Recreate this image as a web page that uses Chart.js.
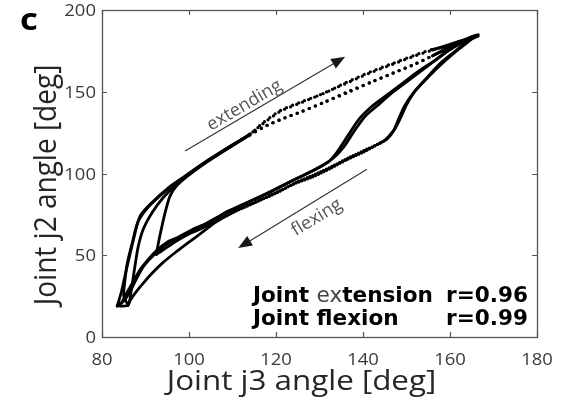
<!DOCTYPE html>
<html><head><meta charset="utf-8">
<script src="https://cdn.jsdelivr.net/npm/chart.js@4.4.0/dist/chart.umd.min.js"></script>
<style>html,body{margin:0;padding:0;background:#fff;overflow:hidden}#wrap{position:relative;width:566px;height:404px}</style>
</head><body><div id="wrap"><canvas id="c" width="566" height="404"></canvas></div>
<script>
// ---- data ----
const xTicks = [80, 100, 120, 140, 160, 180];
const yTicks = [0, 50, 100, 150, 200];
const xTitle = 'Joint j3 angle [deg]';
const yTitle = 'Joint j2 angle [deg]';
const panelLabel = 'c';

const cycle1J3 = [83.5,84.5,85.5,87,88.7,91,95.6,100,105,110,114,117,121,126,131,136,142,147,152,156,160,163.5,166.5,163,160.5,157,153,149,145,142,139,136.5,134,132,128,124,119,114,109,104.5,101,97.5,95,92.6,90.5,88.7,87,85.5,84.5,83.5];
const cycle1J2 = [19,28,40,57,73.6,81,92,100,109,117,124,131,138.5,144,149,155.5,162.5,167.5,172.5,176,178,181,185,181,177,170,163,155,147,141,133,123,113,107,101,96,89,83,77,70,66,61,58,53,47,41,33,26,21,19];

const cycle2J3 = [83.5,86,86.8,87.5,88.3,89.5,91.5,94,97,100.5,105,110,114,118,122,126,131,136,142,147,152,156,159.5,163,165.5,161.5,158,154.5,151.5,149.5,148.3,147,145.5,143.9,140,136.3,132.4,128.5,124,120,115,110,106,103,100,97,94,91.5,89.5,87.8,86.5,86];
const cycle2J2 = [19,19.5,30,42,55,66,76,85,93,101,109,117.5,123.5,129.5,134,138,143.5,149.5,156,161.5,167,172,177,181,184,175.5,168,158,149,141,134,126,121,118.6,113,108.5,103,98,93.5,88,82,76,70,64,58,52,45.5,39,33,27.5,22.5,19.5];

const cycle3J3 = [86,85,85.2,85.8,87,88.2,90.5,94.5,99,104,109,113.5,117,121,125.5,130,136,141.6,147,152,156,160,163.5,166,162,158.5,155,152,150,148.8,147.5,146,144.6,141,137,133,129,125,121,116,111,107,103,100,97,94.5,92.5];
const cycle3J2 = [19.5,25,33,45,58,70,79,89,98,107.5,116,123,130.5,138,143,148,155,161.5,167,172,175.5,179,182,184.5,176,168,159,150.5,142,135,128,123,119.5,115,110,104.5,99.5,95,89.5,83.5,77.5,72,66.5,63,58.5,54,50.5];

const cycle4J3 = [92.5,93,93.8,94.7,95.6,97,99.5,103,107,111,114,118,122,126,131,136.5,142,147,152,156,160,163,166.5,162.5,159,155,151,147,143.5,140.5,138,135.5,133,130,126,121,116,111,106,103,100,97,94,91.5,89.5,88,86.5,85,83.5];
const cycle4J2 = [50.5,58,68,78,86,92,98,105,112,119,124,129.5,134,138,143.5,149.5,156,161.5,167,172,177,180.5,184,179.5,174,166,158,150,142,135,126,116,109,104,98.5,92,85.5,79,72.5,68,64,60,55,49,43,36,28,22,19];

const extArrow = [[99.1, 113.8], [135.9, 171.4]];
const flexArrow = [[140.9, 102.6], [111.3, 54.4]];
const extLabel = 'extending';
const flexLabel = 'flexing';
const statRows = [['Joint ', 'ex', 'tension', 'r=0.96'], ['Joint flexion', '', '', 'r=0.99']];

// ---- chart ----
const cycles = [[cycle1J3, cycle1J2, false], [cycle2J3, cycle2J2, true], [cycle3J3, cycle3J2, true], [cycle4J3, cycle4J2, false]];
const SX = 1.12;

function fastSeg(ctx) {
  const a = ctx.p0.parsed, b = ctx.p1.parsed;
  const ds = ctx.chart.data.datasets[ctx.datasetIndex];
  if (b.x > a.x && a.x >= 113.5 && b.x <= 157) return [0, 6.5];
  if (ds.fastFlex && b.x < a.x && a.x <= 145 && b.x >= 109) return [0, 3.0];
  return undefined;
}
function fastWidth(ctx) {
  return fastSeg(ctx) ? 3.3 : undefined;
}

function sText(ctx, txt, x, y, align, sx) {
  ctx.save(); ctx.translate(x, y); ctx.scale(sx, 1); ctx.textAlign = align; ctx.fillText(txt, 0, 0); ctx.restore();
}

function arrow(ctx, x, y, p0, p1) {
  const ax = x.getPixelForValue(p0[0]), ay = y.getPixelForValue(p0[1]);
  const bx = x.getPixelForValue(p1[0]), by = y.getPixelForValue(p1[1]);
  const ang = Math.atan2(by - ay, bx - ax);
  const hl = 14, hw = 5.5;
  ctx.save();
  ctx.strokeStyle = '#333'; ctx.fillStyle = '#1a1a1a'; ctx.lineWidth = 1.2;
  ctx.beginPath(); ctx.moveTo(ax, ay);
  ctx.lineTo(bx - hl * Math.cos(ang) * 0.8, by - hl * Math.sin(ang) * 0.8); ctx.stroke();
  ctx.translate(bx, by); ctx.rotate(ang);
  ctx.beginPath(); ctx.moveTo(0, 0); ctx.lineTo(-hl, -hw); ctx.lineTo(-hl, hw); ctx.closePath(); ctx.fill();
  ctx.restore();
  return {ax, ay, bx, by};
}

function slantText(ctx, txt, a, t, off, baseline) {
  let dx = a.bx - a.ax, dy = a.by - a.ay;
  if (dx < 0) { dx = -dx; dy = -dy; }
  const ang = Math.atan2(dy, dx);
  const cx = a.ax + (a.bx - a.ax) * t, cy = a.ay + (a.by - a.ay) * t;
  ctx.save();
  ctx.translate(cx, cy); ctx.rotate(ang);
  ctx.textAlign = 'center'; ctx.textBaseline = baseline;
  ctx.fillText(txt, 0, off);
  ctx.restore();
}

const decor = {
  id: 'decor',
  afterDraw(chart) {
    const {ctx, chartArea: ca, scales: {x, y}} = chart;
    ctx.save();
    // frame
    ctx.strokeStyle = '#555'; ctx.lineWidth = 1.3;
    ctx.strokeRect(Math.round(ca.left) + 0.5, Math.round(ca.top) + 0.5, Math.round(ca.right - ca.left), Math.round(ca.bottom - ca.top));
    ctx.lineWidth = 1.2;
    ctx.beginPath();
    xTicks.forEach(v => { const p = Math.round(x.getPixelForValue(v)) + 0.5;
      ctx.moveTo(p, ca.bottom); ctx.lineTo(p, ca.bottom - 5); ctx.moveTo(p, ca.top); ctx.lineTo(p, ca.top + 5); });
    yTicks.forEach(v => { const p = Math.round(y.getPixelForValue(v)) + 0.5;
      ctx.moveTo(ca.left, p); ctx.lineTo(ca.left + 5, p); ctx.moveTo(ca.right, p); ctx.lineTo(ca.right - 5, p); });
    ctx.stroke();
    // tick labels
    ctx.fillStyle = '#3a3a3a'; ctx.font = '16.5px "Open Sans"'; ctx.textBaseline = 'alphabetic';
    xTicks.forEach(v => sText(ctx, String(v), x.getPixelForValue(v), ca.bottom + 28, 'center', SX));
    yTicks.forEach(v => sText(ctx, String(v), ca.left - 6, y.getPixelForValue(v) + 6, 'right', SX));
    // axis titles
    ctx.fillStyle = '#262626'; ctx.font = '28px "Open Sans"';
    sText(ctx, xTitle, 301.5, 390, 'center', SX);
    ctx.save(); ctx.translate(56, 185); ctx.rotate(-Math.PI / 2); ctx.scale(1, SX);
    ctx.textAlign = 'center'; ctx.fillText(yTitle, 0, 0); ctx.restore();
    // panel label
    ctx.fillStyle = '#000'; ctx.font = 'bold 31px "Open Sans"';
    sText(ctx, panelLabel, 20, 30, 'left', SX);
    // arrows
    const ea = arrow(ctx, x, y, extArrow[0], extArrow[1]);
    const fa = arrow(ctx, x, y, flexArrow[0], flexArrow[1]);
    ctx.fillStyle = '#555'; ctx.font = '18px "Open Sans"';
    slantText(ctx, extLabel, ea, 0.40, -4, 'alphabetic');
    slantText(ctx, flexLabel, fa, 0.45, 6, 'top');
    // stats text
    const bl = [302, 325];
    statRows.forEach((r, i) => {
      let cx = 253;
      ctx.textAlign = 'left'; ctx.textBaseline = 'alphabetic';
      [[r[0], 'bold', '#000'], [r[1], 'normal', '#444'], [r[2], 'bold', '#000']].forEach(([t, w, c]) => {
        if (!t) return;
        ctx.font = w + ' 21.6px "DejaVu Sans"'; ctx.fillStyle = c;
        ctx.fillText(t, cx, bl[i]); cx += ctx.measureText(t).width;
      });
      ctx.font = 'bold 21.6px "DejaVu Sans"'; ctx.fillStyle = '#000'; ctx.textAlign = 'right';
      ctx.fillText(r[3], 528, bl[i]);
    });
    ctx.restore();
  }
};

new Chart(document.getElementById('c'), {
  type: 'scatter',
  data: {
    datasets: cycles.map(([xs, ys, ff]) => ({
      data: xs.map((v, i) => ({x: v, y: ys[i]})),
      fastFlex: ff,
      showLine: true, borderColor: '#000', backgroundColor: '#000', borderWidth: 2.8,
      pointRadius: 0, pointHoverRadius: 0, tension: 0.25, fill: false,
      borderCapStyle: 'round', borderJoinStyle: 'round',
      segment: {borderDash: fastSeg, borderWidth: fastWidth}
    }))
  },
  options: {
    responsive: false, animation: false, devicePixelRatio: 1,
    layout: {padding: {left: 0, top: 10, right: 29, bottom: 0}},
    plugins: {legend: {display: false}, tooltip: {enabled: false}},
    events: [],
    scales: {
      x: {type: 'linear', min: 80, max: 180, ticks: {display: false, stepSize: 20},
          grid: {display: false, drawTicks: false}, border: {display: false},
          afterFit: s => { s.height = 67; }},
      y: {type: 'linear', min: 0, max: 200, ticks: {display: false, stepSize: 50},
          grid: {display: false, drawTicks: false}, border: {display: false},
          afterFit: s => { s.width = 102; }}
    }
  },
  plugins: [decor]
});
</script>
</body></html>
